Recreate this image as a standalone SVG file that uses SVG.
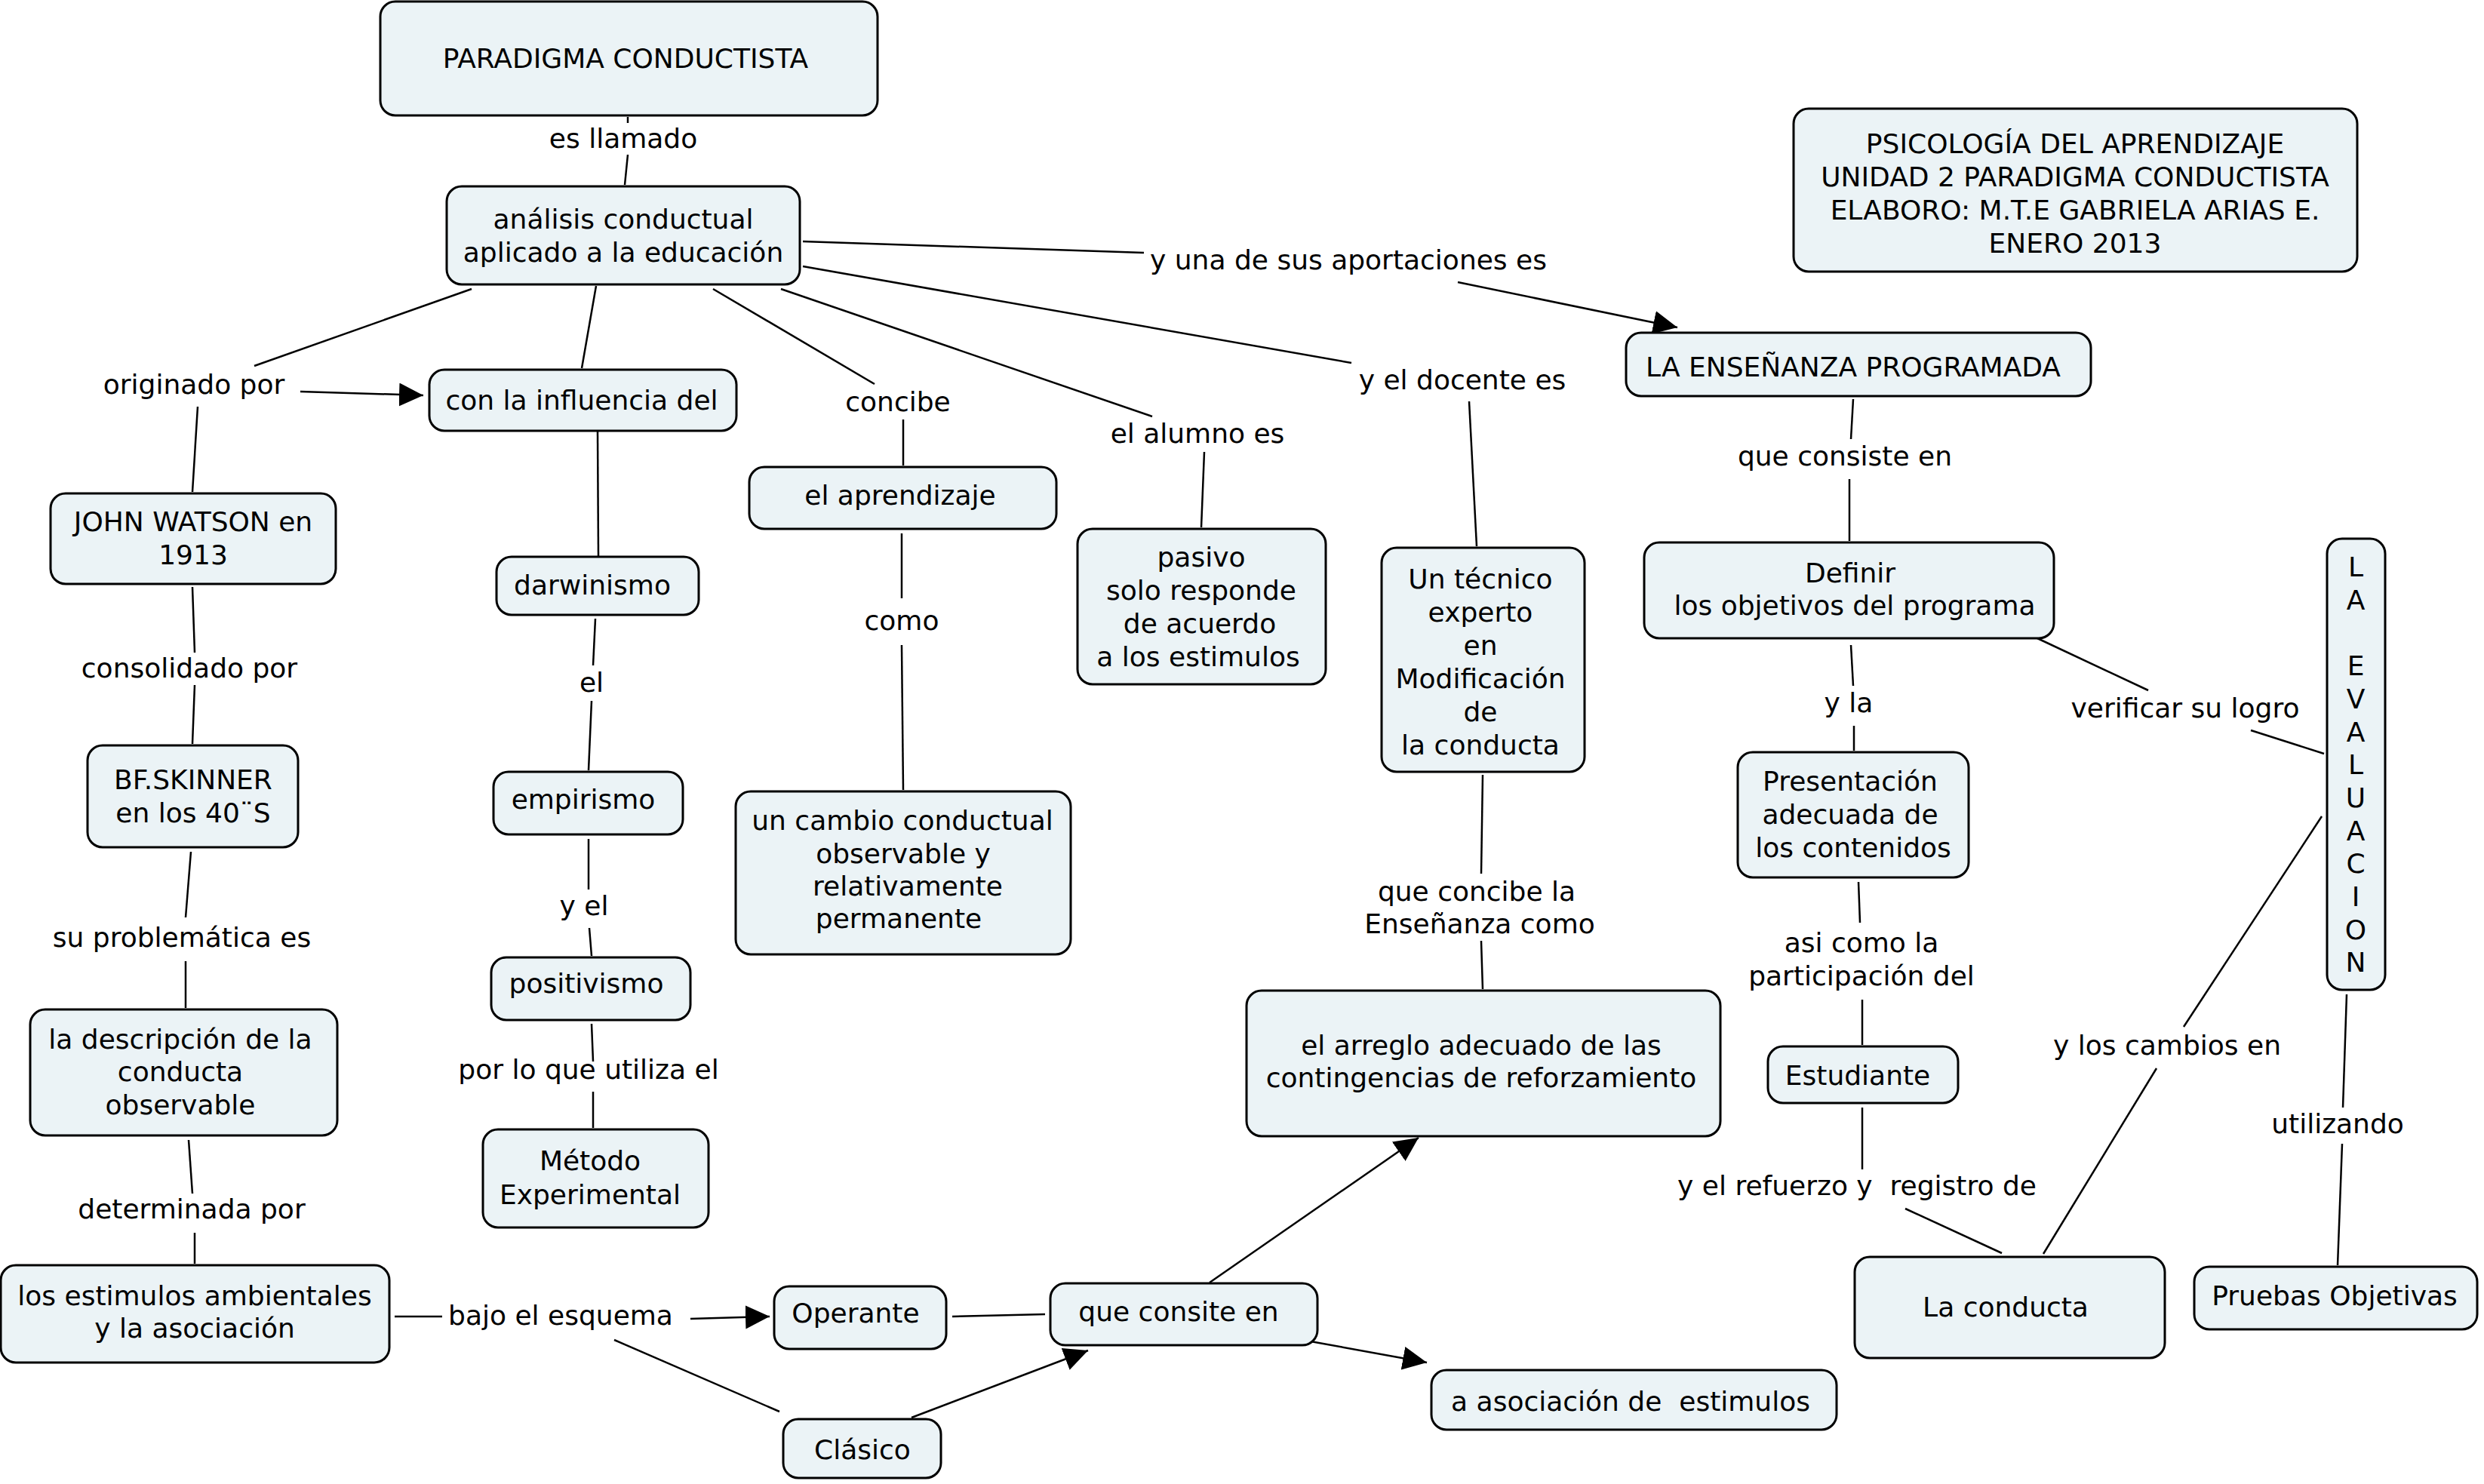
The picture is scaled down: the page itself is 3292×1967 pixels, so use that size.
<svg xmlns="http://www.w3.org/2000/svg" width="3292" height="1967" viewBox="0 0 3292 1967">
<style>
.n{fill:#ebf3f6;stroke:#000;stroke-width:3}
text{font-family:"DejaVu Sans",Verdana,sans-serif;font-size:36px;fill:#000;text-anchor:middle}
#connectors line{stroke:#000;stroke-width:2.5;fill:none}
</style>
<defs>
<marker id="ah" markerUnits="userSpaceOnUse" markerWidth="34" markerHeight="32" refX="32" refY="15.5" orient="auto">
<path d="M0,0 L32,15.5 L0,31 Z" fill="#000"/>
</marker>
</defs>
<rect width="3292" height="1967" fill="#fff"/>
<g id="connectors">
<line x1="832" y1="155" x2="832" y2="163"/>
<line x1="832" y1="205" x2="828" y2="245"/>
<line x1="625" y1="383" x2="337" y2="485"/>
<line x1="398" y1="519" x2="561" y2="524" marker-end="url(#ah)"/>
<line x1="262" y1="539" x2="255" y2="652"/>
<line x1="790" y1="379" x2="771" y2="488"/>
<line x1="792" y1="572" x2="793" y2="737"/>
<line x1="789" y1="820" x2="786" y2="882"/>
<line x1="784" y1="929" x2="780" y2="1021"/>
<line x1="780" y1="1112" x2="780" y2="1179"/>
<line x1="781" y1="1230" x2="784" y2="1267"/>
<line x1="784" y1="1357" x2="786" y2="1407"/>
<line x1="786" y1="1447" x2="786" y2="1495"/>
<line x1="255" y1="778" x2="258" y2="865"/>
<line x1="258" y1="908" x2="255" y2="986"/>
<line x1="253" y1="1129" x2="246" y2="1216"/>
<line x1="246" y1="1274" x2="246" y2="1336"/>
<line x1="250" y1="1511" x2="255" y2="1582"/>
<line x1="258" y1="1634" x2="258" y2="1675"/>
<line x1="523" y1="1745" x2="586" y2="1745"/>
<line x1="915" y1="1748" x2="1020" y2="1745" marker-end="url(#ah)"/>
<line x1="814" y1="1776" x2="1033" y2="1871"/>
<line x1="1262" y1="1745" x2="1385" y2="1742"/>
<line x1="1208" y1="1879" x2="1442" y2="1790" marker-end="url(#ah)"/>
<line x1="1603" y1="1700" x2="1880" y2="1508" marker-end="url(#ah)"/>
<line x1="1737" y1="1778" x2="1891" y2="1806" marker-end="url(#ah)"/>
<line x1="945" y1="383" x2="1159" y2="509"/>
<line x1="1197" y1="556" x2="1197" y2="617"/>
<line x1="1195" y1="707" x2="1195" y2="793"/>
<line x1="1195" y1="855" x2="1197" y2="1047"/>
<line x1="1035" y1="383" x2="1527" y2="552"/>
<line x1="1596" y1="599" x2="1592" y2="699"/>
<line x1="1064" y1="353" x2="1791" y2="481"/>
<line x1="1947" y1="532" x2="1957" y2="724"/>
<line x1="1064" y1="320" x2="1516" y2="335"/>
<line x1="1932" y1="374" x2="2223" y2="434" marker-end="url(#ah)"/>
<line x1="1965" y1="1027" x2="1963" y2="1158"/>
<line x1="1963" y1="1247" x2="1965" y2="1311"/>
<line x1="2456" y1="529" x2="2453" y2="582"/>
<line x1="2451" y1="635" x2="2451" y2="717"/>
<line x1="2453" y1="855" x2="2456" y2="909"/>
<line x1="2457" y1="962" x2="2457" y2="995"/>
<line x1="2700" y1="846" x2="2847" y2="915"/>
<line x1="2983" y1="968" x2="3080" y2="999"/>
<line x1="2463" y1="1169" x2="2465" y2="1223"/>
<line x1="2468" y1="1325" x2="2468" y2="1385"/>
<line x1="2468" y1="1468" x2="2468" y2="1550"/>
<line x1="2525" y1="1602" x2="2653" y2="1661"/>
<line x1="3077" y1="1082" x2="2894" y2="1361"/>
<line x1="2858" y1="1416" x2="2708" y2="1662"/>
<line x1="3110" y1="1318" x2="3105" y2="1468"/>
<line x1="3104" y1="1516" x2="3098" y2="1677"/>
</g>
<g id="labels">
<text x="826" y="196">es llamado</text>
<text x="257" y="522">originado por</text>
<text x="251" y="898">consolidado por</text>
<text x="241" y="1255">su problemática es</text>
<text x="254" y="1615">determinada por</text>
<text x="743" y="1756">bajo el esquema</text>
<text x="784" y="917">el</text>
<text x="774" y="1213">y el</text>
<text x="780" y="1430">por lo que utiliza el</text>
<text x="1190" y="545">concibe</text>
<text x="1195" y="835">como</text>
<text x="1587" y="587">el alumno es</text>
<text x="1938" y="516">y el docente es</text>
<text x="1787" y="357">y una de sus aportaciones es</text>
<text x="1957" y="1194">que concibe la</text>
<text x="1961" y="1237">Enseñanza como</text>
<text x="2445" y="617">que consiste en</text>
<text x="2450" y="944">y la</text>
<text x="2896" y="951">verificar su logro</text>
<text x="2467" y="1262">asi como la</text>
<text x="2467" y="1306">participación del</text>
<text x="2461" y="1584" xml:space="preserve">y el refuerzo y  registro de</text>
<text x="2872" y="1398">y los cambios en</text>
<text x="3098" y="1502">utilizando</text>
</g>
<g id="n-paradigma"><rect class="n" x="504" y="2" width="659" height="151" rx="20"/><text x="829" y="90">PARADIGMA CONDUCTISTA</text></g>
<g id="n-analisis"><rect class="n" x="592" y="247" width="468" height="130" rx="20"/><text x="826" y="303">análisis conductual</text><text x="826" y="347">aplicado a la educación</text></g>
<g id="n-influencia"><rect class="n" x="569" y="490" width="407" height="81" rx="20"/><text x="771" y="543">con la influencia del</text></g>
<g id="n-watson"><rect class="n" x="67" y="654" width="378" height="120" rx="20"/><text x="256" y="704">JOHN WATSON en</text><text x="256" y="748">1913</text></g>
<g id="n-skinner"><rect class="n" x="116" y="988" width="279" height="135" rx="20"/><text x="256" y="1046">BF.SKINNER</text><text x="256" y="1090">en los 40¨S</text></g>
<g id="n-descripcion"><rect class="n" x="40" y="1338" width="407" height="167" rx="20"/><text x="239" y="1390">la descripción de la</text><text x="239" y="1433">conducta</text><text x="239" y="1477">observable</text></g>
<g id="n-estimulos"><rect class="n" x="1" y="1677" width="515" height="129" rx="20"/><text x="258" y="1730">los estimulos ambientales</text><text x="258" y="1773">y la asociación</text></g>
<g id="n-operante"><rect class="n" x="1026" y="1705" width="228" height="83" rx="20"/><text x="1134" y="1753">Operante</text></g>
<g id="n-clasico"><rect class="n" x="1038" y="1881" width="209" height="78" rx="20"/><text x="1143" y="1934">Clásico</text></g>
<g id="n-consite"><rect class="n" x="1392" y="1701" width="354" height="82" rx="20"/><text x="1562" y="1751">que consite en</text></g>
<g id="n-asociacion"><rect class="n" x="1897" y="1816" width="537" height="79" rx="20"/><text x="2161" y="1870" xml:space="preserve">a asociación de  estimulos</text></g>
<g id="n-arreglo"><rect class="n" x="1652" y="1313" width="628" height="193" rx="20"/><text x="1963" y="1398">el arreglo adecuado de las</text><text x="1963" y="1441">contingencias de reforzamiento</text></g>
<g id="n-tecnico"><rect class="n" x="1831" y="726" width="269" height="297" rx="20"/><text x="1962" y="780">Un técnico</text><text x="1962" y="824">experto</text><text x="1962" y="868">en</text><text x="1962" y="912">Modificación</text><text x="1962" y="956">de</text><text x="1962" y="1000">la conducta</text></g>
<g id="n-pasivo"><rect class="n" x="1428" y="701" width="329" height="206" rx="20"/><text x="1592" y="751">pasivo</text><text x="1592" y="795">solo responde</text><text x="1590" y="839">de acuerdo</text><text x="1588" y="883">a los estimulos</text></g>
<g id="n-aprendizaje"><rect class="n" x="993" y="619" width="407" height="82" rx="20"/><text x="1193" y="669">el aprendizaje</text></g>
<g id="n-cambio"><rect class="n" x="975" y="1049" width="444" height="216" rx="20"/><text x="1196" y="1100">un cambio conductual</text><text x="1197" y="1144">observable y</text><text x="1203" y="1187">relativamente</text><text x="1191" y="1230">permanente</text></g>
<g id="n-darwinismo"><rect class="n" x="658" y="738" width="268" height="77" rx="20"/><text x="785" y="788">darwinismo</text></g>
<g id="n-empirismo"><rect class="n" x="654" y="1023" width="251" height="83" rx="20"/><text x="773" y="1072">empirismo</text></g>
<g id="n-positivismo"><rect class="n" x="651" y="1269" width="264" height="83" rx="20"/><text x="777" y="1316">positivismo</text></g>
<g id="n-metodo"><rect class="n" x="640" y="1497" width="299" height="130" rx="20"/><text x="782" y="1551">Método</text><text x="782" y="1596">Experimental</text></g>
<g id="n-ensenanza"><rect class="n" x="2155" y="441" width="616" height="84" rx="20"/><text x="2456" y="499">LA ENSEÑANZA PROGRAMADA</text></g>
<g id="n-psicologia"><rect class="n" x="2377" y="144" width="747" height="216" rx="20"/><text x="2750" y="203">PSICOLOGÍA DEL APRENDIZAJE</text><text x="2750" y="247">UNIDAD 2 PARADIGMA CONDUCTISTA</text><text x="2750" y="291">ELABORO: M.T.E GABRIELA ARIAS E.</text><text x="2750" y="335">ENERO 2013</text></g>
<g id="n-definir"><rect class="n" x="2179" y="719" width="543" height="127" rx="20"/><text x="2452" y="772">Definir</text><text x="2458" y="815">los objetivos del programa</text></g>
<g id="n-evaluacion"><rect class="n" x="3084" y="714" width="77" height="598" rx="20"/><text x="3122" y="764">L</text><text x="3122" y="808">A</text><text x="3122" y="895">E</text><text x="3122" y="939">V</text><text x="3122" y="983">A</text><text x="3122" y="1026">L</text><text x="3122" y="1070">U</text><text x="3122" y="1114">A</text><text x="3122" y="1157">C</text><text x="3122" y="1201">I</text><text x="3122" y="1245">O</text><text x="3122" y="1288">N</text></g>
<g id="n-presentacion"><rect class="n" x="2303" y="997" width="306" height="166" rx="20"/><text x="2452" y="1048">Presentación</text><text x="2452" y="1092">adecuada de</text><text x="2456" y="1136">los contenidos</text></g>
<g id="n-estudiante"><rect class="n" x="2343" y="1387" width="252" height="75" rx="20"/><text x="2462" y="1438">Estudiante</text></g>
<g id="n-conducta"><rect class="n" x="2458" y="1666" width="411" height="134" rx="20"/><text x="2658" y="1745">La conducta</text></g>
<g id="n-pruebas"><rect class="n" x="2908" y="1679" width="375" height="83" rx="20"/><text x="3094" y="1730">Pruebas Objetivas</text></g>
</svg>
